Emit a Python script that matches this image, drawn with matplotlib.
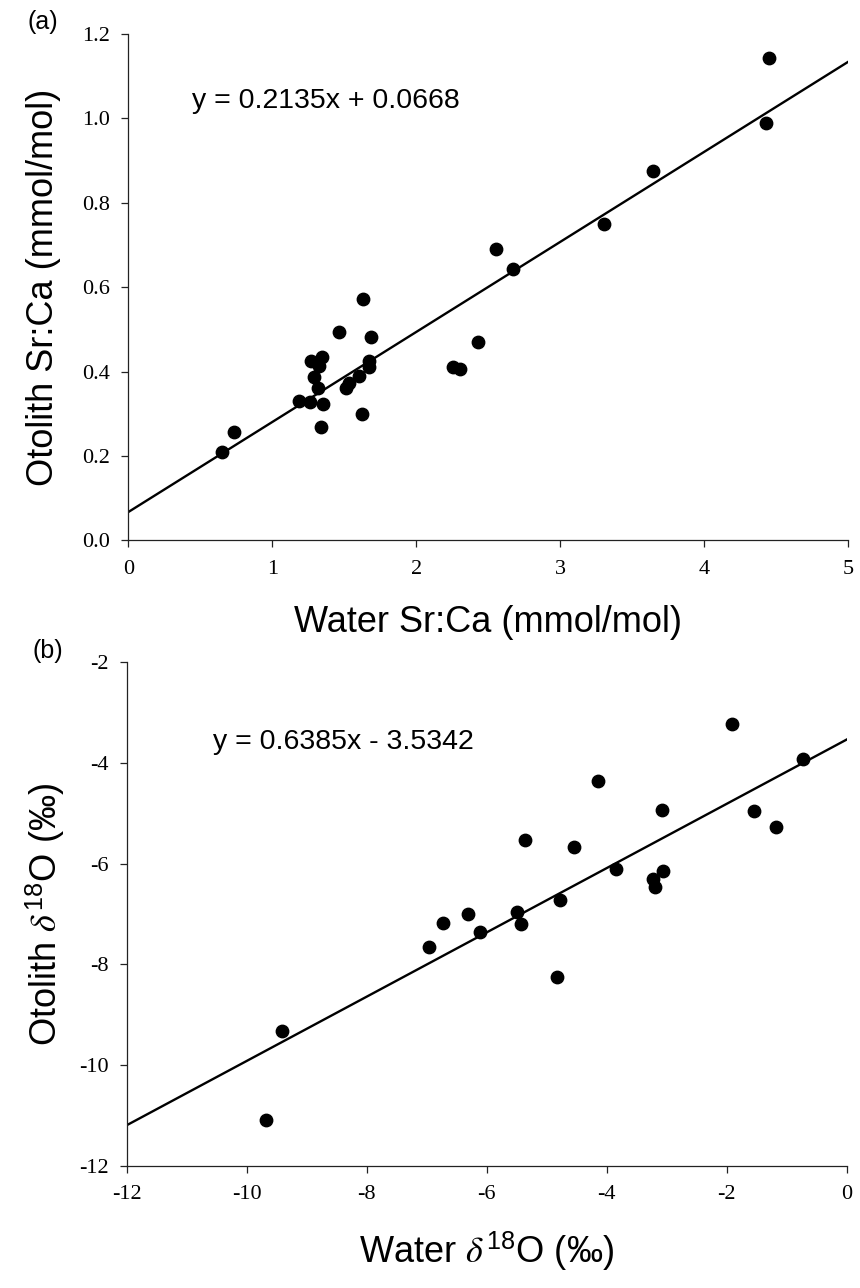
import numpy as np
import matplotlib
matplotlib.use("Agg")
import matplotlib.pyplot as plt

# (a) Sr:Ca, water vs otolith (mmol/mol)
water_srca = [1.633, 1.462, 1.686, 2.431, 1.269, 1.344, 1.325, 1.672, 1.674,
              2.258, 2.304, 1.290, 1.603, 1.533, 1.510, 1.316, 1.186, 1.263,
              1.351, 1.622, 1.341, 0.735, 0.653, 4.450, 4.429, 3.642, 3.302,
              2.556, 2.670]
otolith_srca = [0.572, 0.493, 0.481, 0.470, 0.424, 0.434, 0.414, 0.425, 0.410,
                0.410, 0.407, 0.386, 0.389, 0.373, 0.360, 0.360, 0.329, 0.328,
                0.323, 0.299, 0.268, 0.257, 0.209, 1.142, 0.989, 0.876, 0.750,
                0.691, 0.644]
fit_a = (0.2135, 0.0668)

# (b) d18O, water vs otolith (permil)
water_d18o = [-6.307, -6.723, -6.107, -6.962, -9.417, -9.678, -1.912, -0.723,
              -4.140, -3.073, -1.545, -1.172, -5.357, -4.550, -3.845, -3.067,
              -3.233, -3.190, -4.778, -5.490, -5.433, -4.828]
otolith_d18o = [-7.001, -7.186, -7.365, -7.657, -9.319, -11.094, -3.232, -3.927,
                -4.352, -4.941, -4.961, -5.279, -5.531, -5.676, -6.107, -6.140,
                -6.299, -6.465, -6.717, -6.955, -7.193, -8.253]
fit_b = (0.6385, -3.5342)

xticks_a = [0, 1, 2, 3, 4, 5]
yticks_a = [0.0, 0.2, 0.4, 0.6, 0.8, 1.0, 1.2]
xticks_b = [-12, -10, -8, -6, -4, -2, 0]
yticks_b = [-12, -10, -8, -6, -4, -2]

W, H = 860, 1288
sans = "Liberation Sans"
serif = "Liberation Serif"

plt.rcParams["mathtext.fontset"] = "stix"

fig = plt.figure(figsize=(W / 100, H / 100), dpi=100)
fig.patch.set_facecolor("white")


def px_axes(left, top, right, bottom):
    return fig.add_axes([left / W, 1 - bottom / H, (right - left) / W, (bottom - top) / H])


def style(ax, xt, yt, xfmt, yfmt):
    for s in ["top", "right"]:
        ax.spines[s].set_visible(False)
    for s in ["left", "bottom"]:
        ax.spines[s].set_linewidth(0.9)
        ax.spines[s].set_color("#222222")
    ax.set_xlim(xt[0], xt[-1])
    ax.set_ylim(yt[0], yt[-1])
    ax.set_xticks(xt)
    ax.set_yticks(yt)
    ax.set_xticklabels([xfmt.format(v) for v in xt], fontfamily=serif, fontsize=16)
    ax.set_yticklabels([yfmt.format(v) for v in yt], fontfamily=serif, fontsize=16)
    ax.tick_params(direction="out", length=5, width=0.9, color="#222222")
    ax.tick_params(axis="x", pad=9)
    ax.tick_params(axis="y", pad=8)


# panel a
ax1 = px_axes(128.2, 34, 848.3, 540.3)
ax1.scatter(water_srca, otolith_srca, s=80, color="black", zorder=3, clip_on=False)
xa = np.array([xticks_a[0], xticks_a[-1]])
ax1.plot(xa, fit_a[0] * xa + fit_a[1], color="black", lw=1.7)
style(ax1, xticks_a, yticks_a, "{:g}", "{:.1f}")

# panel b
ax2 = px_axes(126.7, 662.3, 846.7, 1165.7)
ax2.scatter(water_d18o, otolith_d18o, s=80, color="black", zorder=3, clip_on=False)
xb = np.array([xticks_b[0], xticks_b[-1]])
ax2.plot(xb, fit_b[0] * xb + fit_b[1], color="black", lw=1.7)
style(ax2, xticks_b, yticks_b, "{:g}", "{:g}")

# texts
fig.text(192 / W, 1 - 108 / H, "y = 0.2135x + 0.0668", fontfamily=sans, fontsize=20.5,
         va="baseline", ha="left")
fig.text(213 / W, 1 - 749 / H, "y = 0.6385x - 3.5342", fontfamily=sans, fontsize=20.5,
         va="baseline", ha="left")
fig.text(27 / W, 1 - 22.5 / H, "(a)", fontfamily=sans, fontsize=18, va="center", ha="left")
fig.text(32 / W, 1 - 651 / H, "(b)", fontfamily=sans, fontsize=18, va="center", ha="left")

fig.text(488 / W, 1 - 632 / H, "Water Sr:Ca (mmol/mol)", fontfamily=sans, fontsize=26,
         va="baseline", ha="center")
fig.text(44 / W, 1 - 287 / H, "Otolith Sr:Ca (mmol/mol)", fontfamily=sans, fontsize=26,
         va="center", ha="center", rotation=90)
fig.text(487 / W, 1 - 1262 / H, r"Water $\delta^{\mathregular{18}}$O (‰)", fontfamily=sans,
         fontsize=26, va="baseline", ha="center")
fig.text(44 / W, 1 - 914 / H, r"Otolith $\delta^{\mathregular{18}}$O (‰)", fontfamily=sans,
         fontsize=26, va="center", ha="center", rotation=90)

fig.savefig("out.png", dpi=100, facecolor="white")
